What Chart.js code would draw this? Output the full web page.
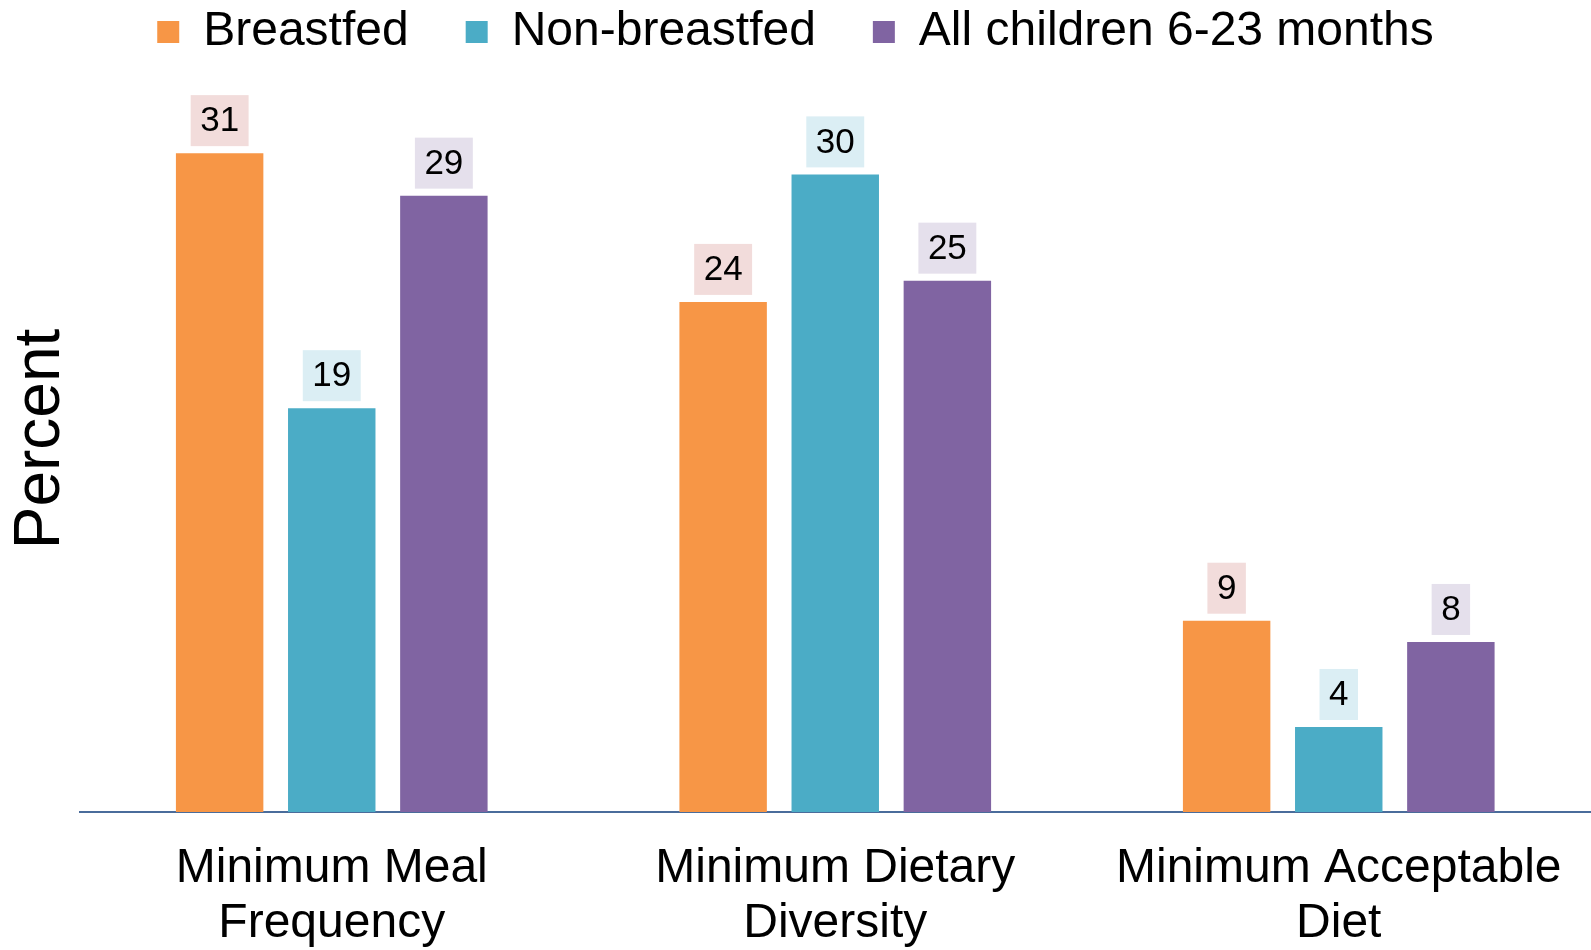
<!DOCTYPE html>
<html>
<head>
<meta charset="utf-8">
<script src="https://cdn.jsdelivr.net/npm/chart.js@4.4.1/dist/chart.umd.min.js"></script>
<style>
  html, body { margin: 0; padding: 0; background: #ffffff; }
  #wrap { width: 1591px; height: 950px; }
</style>
</head>
<body>
<div id="wrap"><canvas id="c" width="1591" height="950"></canvas></div>
<script>
const categories = [
  ["Minimum Meal", "Frequency"],
  ["Minimum Dietary", "Diversity"],
  ["Minimum Acceptable", "Diet"]
];
const seriesNames = ["Breastfed", "Non-breastfed", "All children 6-23 months"];
const breastfed = [31, 24, 9];
const nonBreastfed = [19, 30, 4];
const allChildren = [29, 25, 8];
const barColors = ["#F79646", "#4BACC6", "#8064A2"];
const labelBgColors = ["#F2DCDB", "#DBEEF4", "#E5E0EC"];
const yTitle = "Percent";

const FONT = "'Liberation Sans', Arial, Helvetica, sans-serif";
Chart.defaults.font.family = FONT;
Chart.defaults.color = "#000000";

const valueLabels = {
  id: "valueLabels",
  afterDatasetsDraw(chart) {
    const ctx = chart.ctx;
    chart.data.datasets.forEach((ds, di) => {
      const meta = chart.getDatasetMeta(di);
      meta.data.forEach((bar, i) => {
        const text = String(ds.data[i]);
        ctx.save();
        ctx.font = "35px " + FONT;
        const w = ctx.measureText(text).width + 19;
        const h = 51;
        const x = bar.x - w / 2;
        const y = bar.y - 7 - h;
        ctx.fillStyle = labelBgColors[di];
        ctx.fillRect(x, y, w, h);
        ctx.fillStyle = "#000000";
        ctx.textAlign = "center";
        ctx.textBaseline = "middle";
        ctx.fillText(text, bar.x, y + h / 2 + 1);
        ctx.restore();
      });
    });
  }
};

const seriesData = [breastfed, nonBreastfed, allChildren];

new Chart(document.getElementById("c"), {
  type: "bar",
  data: {
    labels: categories,
    datasets: seriesNames.map((name, i) => ({
      label: name,
      data: seriesData[i],
      backgroundColor: barColors[i],
      borderWidth: 0,
      barPercentage: 0.78,
      categoryPercentage: 0.668
    }))
  },
  options: {
    responsive: false,
    devicePixelRatio: 1,
    animation: false,
    layout: { padding: { top: -49, left: 0, right: 0, bottom: -31 } },
    plugins: {
      legend: {
        position: "top",
        labels: {
          boxWidth: 22,
          boxHeight: 22,
          padding: 57,
          color: "#000000",
          font: { size: 48 }
        }
      },
      tooltip: { enabled: false },
      title: { display: false }
    },
    scales: {
      x: {
        grid: { display: false, drawTicks: false },
        border: { display: true, color: "#4A6C9B", width: 2 },
        ticks: {
          color: "#000000",
          padding: 29.5,
          maxRotation: 0,
          autoSkip: false,
          font: { size: 48, lineHeight: 1.146 }
        }
      },
      y: {
        min: 0,
        max: 35.1,
        grid: { display: false, drawTicks: false },
        border: { display: false },
        ticks: { display: false },
        title: {
          display: true,
          text: yTitle,
          color: "#000000",
          font: { size: 64, lineHeight: 1 },
          padding: { top: 9, bottom: 7 }
        }
      }
    }
  },
  plugins: [valueLabels]
});
</script>
</body>
</html>
